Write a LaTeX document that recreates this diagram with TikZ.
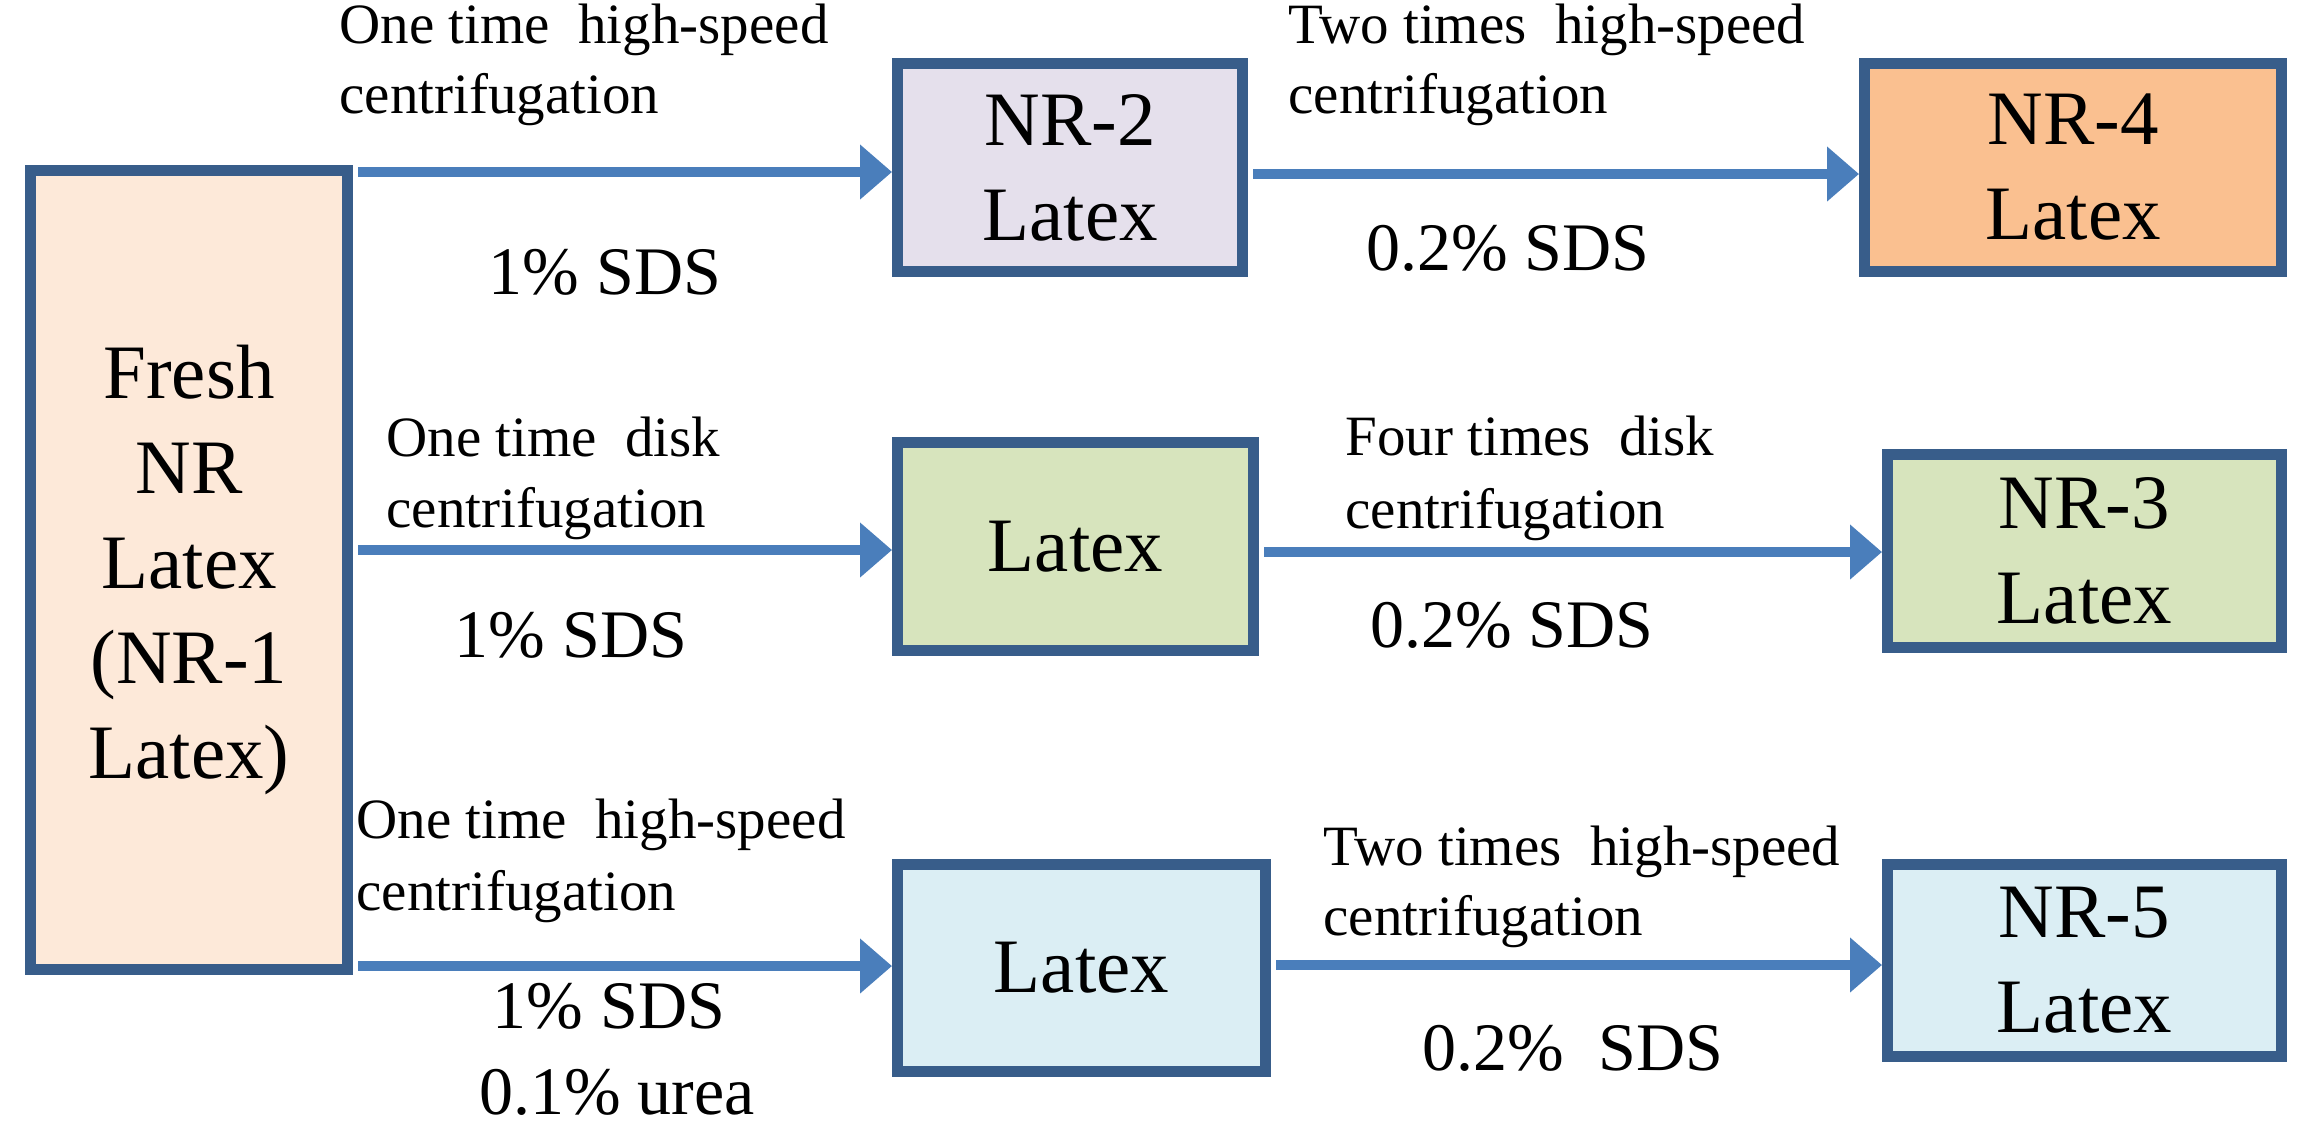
\documentclass[tikz,border=0pt]{standalone}
\usepackage{fontspec}
\setmainfont{Liberation Serif}
\usetikzlibrary{arrows.meta}
\definecolor{bord}{HTML}{385D8A}
\definecolor{arrc}{HTML}{4A7EBB}
\definecolor{fPeach}{HTML}{FDE9D9}
\definecolor{fLav}{HTML}{E5E0EC}
\definecolor{fOrange}{HTML}{FAC090}
\definecolor{fGreen}{HTML}{D7E4BD}
\definecolor{fBlue}{HTML}{DBEEF4}
\tikzset{
 box/.style={draw=bord, line width=5.5pt, inner sep=0pt, align=center, font=\fontsize{38.5}{47.5}\selectfont},
 lab/.style={anchor=base west, inner sep=0pt, font=\fontsize{28.5}{36}\selectfont},
 dose/.style={anchor=base, inner sep=0pt, font=\fontsize{34}{42}\selectfont},
 flow/.style={draw=arrc, line width=5pt, -{Triangle[length=16pt,width=26.5pt]}, shorten <=2.5pt}
}
\begin{document}
\begin{tikzpicture}[x=0.5pt,y=-0.5pt]
\useasboundingbox[fill=white] (0,0) rectangle (2313,1132);
% boxes
\node[box, fill=fPeach, minimum width=158.5pt, minimum height=399.5pt] (fresh) at (189,570) {Fresh\\NR\\Latex\\(NR-1\\Latex)};
\node[box, fill=fLav, minimum width=172.5pt, minimum height=104pt] (n2) at (1070,167.5) {NR-2\\Latex};
\node[box, fill=fOrange, minimum width=208.5pt, minimum height=104pt] (n4) at (2073,167.5) {NR-4\\Latex};
\node[box, fill=fGreen, minimum width=178pt, minimum height=104pt] (m2) at (1075.5,546.5) {Latex};
\node[box, fill=fGreen, minimum width=197pt, minimum height=96.5pt] (n3) at (2084.5,551) {NR-3\\Latex};
\node[box, fill=fBlue, minimum width=184pt, minimum height=103.5pt] (m3) at (1081.5,968) {Latex};
\node[box, fill=fBlue, minimum width=197pt, minimum height=96pt] (n5) at (2084.5,960.5) {NR-5\\Latex};
% arrow end points on the box sides
\coordinate (a1) at ([yshift=-2.25pt]n2.west);
\coordinate (b1) at ([yshift=-3.25pt]n2.east);
\coordinate (a2) at ([yshift=-1.75pt]m2.west);
\coordinate (b2) at ([yshift=-2.75pt]m2.east);
\coordinate (a3) at ([yshift=1pt]m3.west);
\coordinate (b3) at ([yshift=1.5pt]m3.east);
% connectors
\draw[flow] (fresh.east |- a1) -- (a1);
\draw[flow] (b1) -- (n4.west |- b1);
\draw[flow] (fresh.east |- a2) -- (a2);
\draw[flow] (b2) -- (n3.west |- b2);
\draw[flow] (fresh.east |- a3) -- (a3);
\draw[flow] (b3) -- (n5.west |- b3);
% row 1 labels
\node[lab] (l1a) at (339,43) {One time~ high-speed};
\node[lab] (l1b) at (339,113) {centrifugation};
\node[dose] (d1) at (605,294) {1\% SDS};
\node[lab] (r1a) at (1288,43) {Two times~ high-speed};
\node[lab] (r1b) at (1288,113) {centrifugation};
\node[dose] (e1) at (1508,270) {0.2\% SDS};
% row 2 labels
\node[lab] (l2a) at (386,456) {One time~ disk};
\node[lab] (l2b) at (386,527) {centrifugation};
\node[dose] (d2) at (571,657) {1\% SDS};
\node[lab] (r2a) at (1345,455) {Four times~ disk};
\node[lab] (r2b) at (1345,528) {centrifugation};
\node[dose] (e2) at (1512,647) {0.2\% SDS};
% row 3 labels
\node[lab] (l3a) at (356,838) {One time~ high-speed};
\node[lab] (l3b) at (356,910) {centrifugation};
\node[dose] (d3a) at (609,1028) {1\% SDS};
\node[dose] (d3b) at (617,1114) {0.1\% urea};
\node[lab] (r3a) at (1323,865) {Two times~ high-speed};
\node[lab] (r3b) at (1323,935) {centrifugation};
\node[dose] (e3) at (1573,1070) {0.2\%~ SDS};
\end{tikzpicture}
\end{document}
